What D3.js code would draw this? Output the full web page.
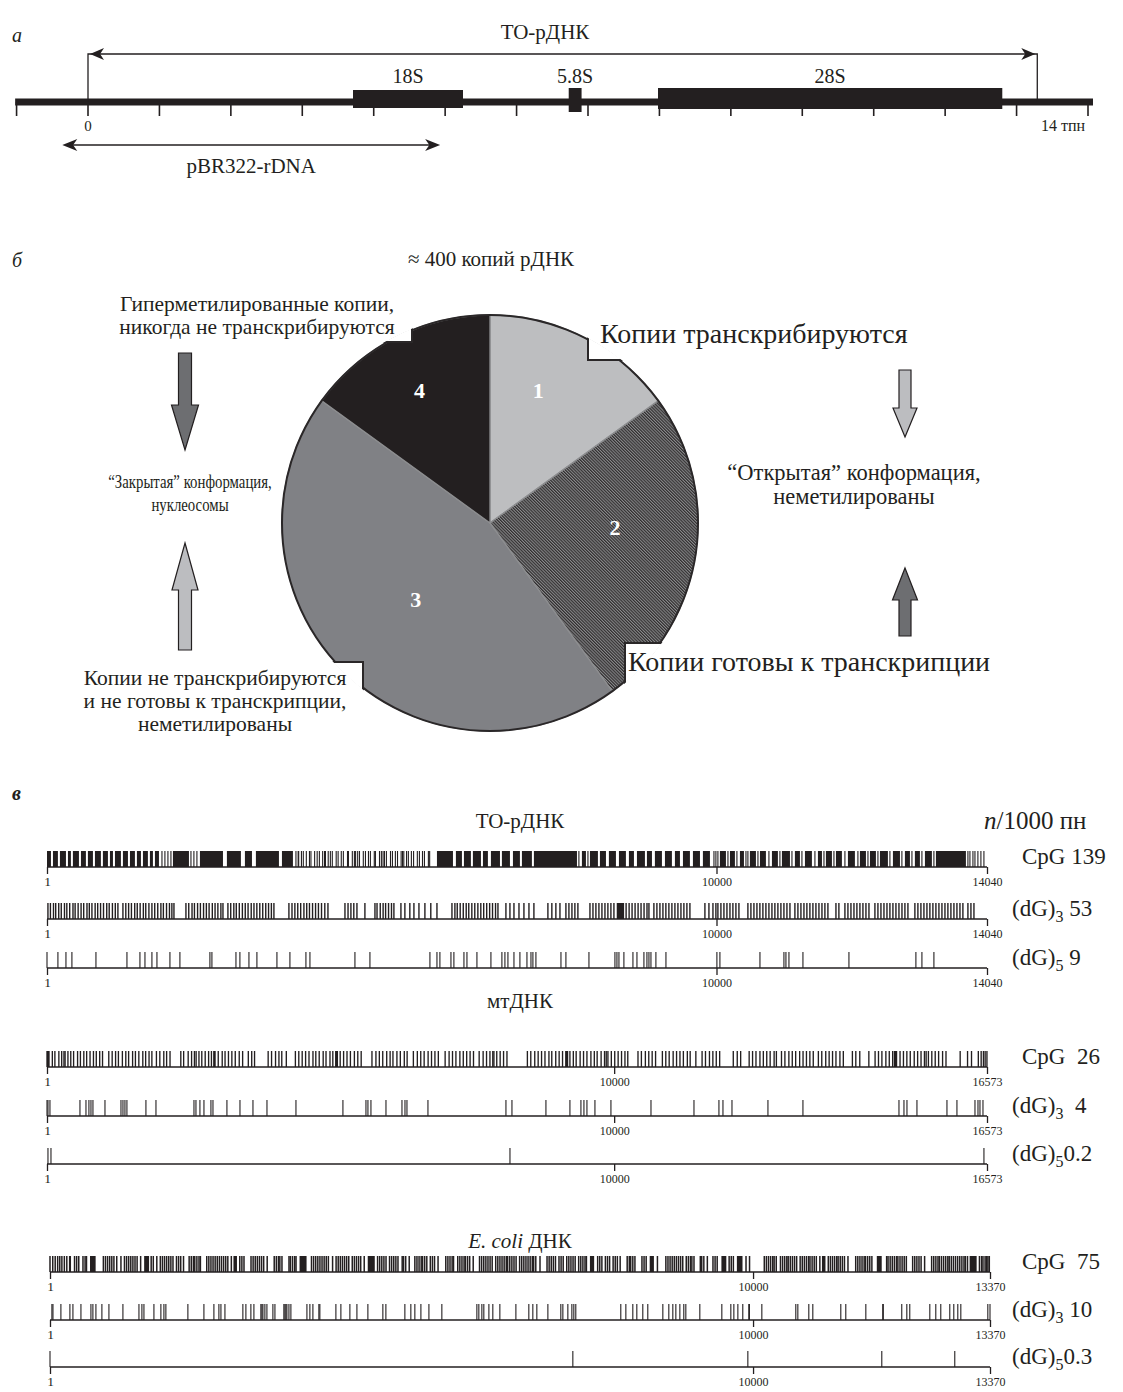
<!DOCTYPE html>
<html><head><meta charset="utf-8">
<script src="https://cdn.jsdelivr.net/npm/d3@7"></script>
<style>
body{margin:0;background:#fff;}
svg{display:block;}
text{font-family:"Liberation Serif","Times New Roman",serif;fill:#231f20;}
</style></head><body>
<svg id="fig" width="1123" height="1392"></svg>
<script>
// ---------- panel а: map of one rDNA repeat, positions in kb ----------
const repeatExtentKb = [-1.02, 14.07];
const kbTickValues = [-1, 0, 1, 2, 3, 4, 5, 6, 7, 8, 9, 10, 11, 12, 13, 14];
const geneNames = ["18S", "5.8S", "28S"];
const geneStartKb = [3.71, 6.73, 7.98];
const geneEndKb = [5.25, 6.91, 12.8];
const transcribedSpanKb = [0, 13.29];
const cloneSpanKb = [-0.36, 4.93];

// ---------- panel б: fractions of the ~400 rDNA copies ----------
const fractionIds = ["1", "2", "3", "4"];
const fractionShares = [15, 25, 45, 15];

// ---------- panel в: motif positions along three sequences (bp) ----------
const sequenceTitles = ["ТО-рДНК", "мтДНК", "E. coli ДНК"];
const sequenceLengths = [14040, 16573, 13370];
const motifBase = ["CpG", "(dG)", "(dG)"];
const motifSub = ["", "3", "5"];
const motifDensities = [
  ["\u00a0139", "\u00a053", "\u00a09"],
  ["\u00a0\u00a026", "\u00a0\u00a04", "0.2"],
  ["\u00a0\u00a075", "\u00a010", "0.3"]
];

// ТО-рДНК, CpG: dense blocks plus isolated sites
const rdnaCpGRuns = [[1,60],[90,164],[194,284],[314,358],[388,478],[508,582],[612,687],[717,806],[836,911],[941,986],[1016,1105],[1135,1210],[1240,1314],[1344,1404],[1434,1508],[1538,1583],[1613,1673],[1882,2121],[2285,2629],[2688,2897],[2957,3062],[3121,3465],[3510,3674],[5825,6064],[6108,6198],[6228,6332],[6362,6482],[6512,6586],[6631,6766],[6795,6915],[6960,7064],[7094,7243],[7273,7916],[7990,8050],[8110,8229],[8259,8349],[8393,8498],[8543,8647],[8692,8767],[8812,8931],[8961,9036],[9080,9185],[9230,9334],[9379,9454],[9499,9603],[9648,9753],[9797,9902],[10051,10141],[10201,10275],[10350,10410],[10499,10589],[10649,10738],[10828,10917],[10977,11097],[11171,11246],[11321,11425],[11515,11575],[11634,11724],[11784,11873],[11963,12067],[12142,12232],[12292,12381],[12441,12560],[12635,12740],[12814,12889],[12963,13038],[13113,13217],[13277,13725]];
const rdnaCpGSites = [1718,1762,1807,1852,2151,2195,2240,3719,3752,3760,3801,3829,3874,3921,3943,3998,4036,4069,4118,4146,4160,4201,4233,4262,4320,4349,4396,4427,4489,4503,4561,4592,4610,4641,4668,4725,4757,4802,4831,4889,4906,4967,4995,5020,5041,5070,5131,5160,5204,5236,5290,5311,5330,5371,5398,5443,5476,5532,5563,5609,5638,5697,5716,7945,8080,9962,9991,10021,10171,10305,10440,10469,10619,10783,10947,11127,11276,11470,11605,11754,11918,12112,12262,12411,12590,12769,12919,13068,13247,13755,13785,13830,13860,13904,13949,13994];

// ТО-рДНК, (dG)3
const rdnaG3Runs = [[8510,8620]];
const rdnaG3Sites = [15,52,98,131,176,214,262,297,340,389,421,466,510,549,598,633,672,720,758,801,845,893,930,978,1021,1060,
  1135,1178,1220,1262,1311,1349,1392,1440,1476,1523,1568,1610,1655,1702,1739,1786,1830,1866,1897,
  2076,2118,2167,2203,2250,2292,2339,2381,2422,2470,2511,2553,2598,2629,
  2703,2745,2791,2828,2873,2919,2962,3004,3051,3092,3135,3179,3223,3268,3310,3352,3390,
  3614,3660,3703,3746,3790,3838,3880,3921,3967,4012,4055,4101,4150,4197,
  4451,4497,4540,4583,4630,4749,4899,4930,4978,5021,5058,5102,5146,5182,
  5287,5346,5420,5481,5556,5645,5733,5825,
  6049,6093,6128,6172,6218,6262,6300,6346,6390,6436,6480,6523,6568,6612,6655,6700,6736,
  6855,6915,6975,7050,7124,7199,7273,7482,7541,7601,7662,7751,7796,7841,7885,7930,
  8110,8155,8199,8244,8289,8334,8378,8423,8468,8650,8695,8739,8784,8829,8873,8918,8962,8991,
  9065,9110,9155,9200,9244,9289,9334,9379,9424,9469,9513,9558,9603,9827,9887,9947,
  9991,10021,10066,10111,10156,10201,10245,10290,10335,
  10469,10514,10559,10604,10648,10693,10738,10783,10828,10872,10917,10962,11007,11052,11097,
  11171,11216,11261,11306,11350,11395,11440,11485,11530,11575,11619,11664,11784,11828,
  11918,11963,12008,12053,12097,12142,12187,12232,12277,
  12366,12411,12456,12501,12546,12590,12635,12680,12725,12770,12814,12859,
  12963,13008,13053,13098,13143,13187,13232,13277,13322,13367,13412,13456,13501,13546,13591,13636,13680,
  13755,13800,13845];

// ТО-рДНК, (dG)5
const rdnaG5Sites = [1,164,284,373,732,1195,1389,1464,1568,1643,1837,1986,2434,2464,2823,2882,3017,3136,3435,3629,3868,3928,4600,4824,5720,5825,5869,6034,6078,6228,6273,6422,6631,6795,6840,6885,6975,7064,7169,7229,7258,7303,7677,7751,8095,8483,8513,8543,8617,8752,8812,8916,8961,8991,9021,9095,9245,10006,10051,10649,11007,11037,11082,11291,11978,12978,13068,13247];

// мтДНК, CpG
const mtCpGRuns = [[1,45],[2930,2970],[5080,5130],[9140,9190],[14930,14990]];
const mtCpGSites = [1,30,95,140,210,260,300,320,370,420,470,540,590,650,700,760,820,870,930,980,1090,1150,1210,1260,1330,1390,1440,1510,1560,1620,1690,1740,1800,1850,1930,1990,2060,2110,2170,2360,2410,2490,2550,2600,2630,2680,2730,2790,2850,2900,2960,3020,3090,3140,3200,3260,3320,3390,3450,3550,3610,3660,3900,3960,4030,4090,4140,4220,4380,4440,4500,4560,4620,4690,4740,4800,4870,4920,4990,5040,5100,5120,5170,5230,5290,5350,5420,5480,5540,5730,5800,5860,5920,5990,6050,6100,6170,6230,6300,6350,6460,6530,6590,6650,6720,6780,6840,6900,7020,7090,7150,7210,7280,7340,7400,7460,7520,7620,7690,7750,7810,7860,7880,7930,7990,8050,8110,8470,8530,8600,8660,8720,8780,8850,8900,8970,9030,9090,9150,9170,9220,9280,9330,9400,9460,9520,9590,9650,9700,9770,9830,9860,9890,9950,10010,10070,10130,10190,10240,10420,10480,10550,10610,10670,10730,10850,10910,10970,11040,11100,11160,11220,11290,11340,11440,11550,11610,11680,11740,11800,11860,12100,12170,12230,12380,12440,12500,12570,12630,12690,12750,12820,12860,12950,13010,13080,13140,13200,13270,13330,13390,13450,13510,13600,13660,13730,13790,13850,13910,13980,14040,14200,14260,14330,14490,14600,14660,14720,14790,14850,14910,14950,14970,15040,15100,15160,15220,15290,15350,15410,15470,15500,15540,15600,15660,15720,15790,15850,16100,16230,16300,16420,16470,16510,16540,16572];

// мтДНК, (dG)3 and (dG)5
const mtG3Sites = [1,18,53,582,688,740,776,811,1023,1305,1340,1375,1410,1745,1922,2592,2627,2697,2768,2891,2927,3173,3403,3632,3879,4390,5218,5624,5659,5712,5977,6259,6312,6347,6717,8092,8198,8797,9220,9414,9467,9520,9661,9943,10649,11407,11847,11918,12077,12711,13328,15021,15109,15162,15338,15867,16043,16361,16414,16449,16502];
const mtG5Sites = [18,71,8163,16519];

// E. coli ДНК, CpG
const ecoliCpGRuns = [[270,300],[570,650],[1340,1410],[2610,2660],[3550,3650],[4520,4620],[7680,7740],[8530,8590],[9550,9620],[9770,9850],[10980,11030],[11760,11830],[13080,13180]];
const ecoliCpGSites = [1,40,75,110,140,170,205,240,350,380,410,470,500,520,760,790,820,850,880,910,950,1010,1060,1090,1120,1150,1180,1210,1240,1290,1440,1470,1520,1570,1600,1630,1660,1690,1720,1750,1800,1830,1860,1900,1980,2010,2040,2060,2090,2120,2140,2230,2260,2290,2320,2350,2380,2410,2440,2470,2500,2530,2580,2700,2730,2760,2860,2890,2920,2950,2980,3010,3040,3090,3190,3220,3250,3270,3300,3400,3420,3450,3480,3500,3720,3750,3780,3810,3840,3870,3900,3930,3960,4020,4070,4100,4130,4160,4190,4220,4250,4300,4330,4360,4390,4420,4470,4660,4690,4720,4750,4780,4830,4860,4890,4920,4950,5010,5030,5060,5110,5190,5220,5250,5280,5300,5330,5360,5410,5440,5470,5520,5630,5660,5690,5720,5740,5800,5830,5860,5890,5910,5940,5970,6020,6110,6140,6170,6200,6230,6260,6290,6340,6370,6400,6430,6460,6490,6510,6540,6570,6600,6630,6680,6710,6740,6770,6800,6830,6860,6880,6910,6970,7070,7100,7130,7160,7190,7240,7270,7300,7350,7380,7410,7440,7470,7520,7550,7580,7610,7630,7790,7820,7850,7900,7930,7960,8010,8040,8070,8110,8210,8240,8260,8290,8320,8420,8450,8480,8640,8760,8790,8820,8850,8880,8910,8940,8970,9000,9050,9080,9110,9130,9160,9250,9270,9300,9350,9430,9460,9490,9660,9690,9720,9900,9950,10160,10190,10220,10250,10280,10300,10330,10390,10420,10450,10480,10500,10530,10560,10590,10620,10670,10700,10730,10760,10790,10810,10840,10870,10900,10950,11070,11100,11130,11160,11190,11210,11240,11270,11300,11350,11460,11490,11520,11550,11580,11600,11630,11660,11690,11900,11920,11950,11980,12010,12040,12060,12090,12120,12150,12180,12270,12300,12330,12360,12390,12440,12540,12570,12600,12630,12650,12680,12710,12740,12770,12790,12820,12850,12880,12910,12940,12970,13000,13020,13050,13220,13250,13270,13300,13320,13340,13360];

// E. coli ДНК, (dG)3 and (dG)5
const ecoliG3Sites = [28,43,156,284,327,441,583,611,654,739,839,1038,1266,1308,1337,1479,1578,1621,1649,1962,2190,2332,2403,2432,2489,2744,2787,2858,2901,3000,3015,3029,3057,3086,3171,3200,3327,3342,3356,3370,3399,3427,3655,3697,3740,3825,3839,4067,4138,4266,4366,4522,4735,4778,5048,5133,5190,5276,5390,5574,6072,6100,6143,6171,6243,6299,6399,6627,6811,6868,6925,7082,7266,7295,7366,7423,7451,7479,8119,8191,8290,8347,8432,8503,8717,8802,8859,8902,8959,9015,9044,9243,9556,9684,9727,9784,9854,9940,9948,10125,10608,10637,10793,10850,11248,11319,11604,11845,11852,12115,12187,12229,12514,12599,12670,12798,12855,12912,12955,13339,13370];
const ecoliG5Sites = [1,7437,9926,11831,12869];

const motifSites = [
  [rdnaCpGSites, rdnaG3Sites, rdnaG5Sites],
  [mtCpGSites, mtG3Sites, mtG5Sites],
  [ecoliCpGSites, ecoliG3Sites, ecoliG5Sites]
];
const motifRuns = [
  [rdnaCpGRuns, rdnaG3Runs, []],
  [mtCpGRuns, [], []],
  [ecoliCpGRuns, [], []]
];

// ---------- drawing ----------
const ink = "#231f20";
const svg = d3.select("#fig");
const defs = svg.append("defs");

function label(x, y, txt, size, opts = {}) {
  const t = svg.append("text").attr("x", x).attr("y", y)
    .attr("font-size", size).attr("text-anchor", opts.anchor || "start")
    .text(txt);
  if (opts.italic) t.attr("font-style", "italic");
  if (opts.bold) t.attr("font-weight", "bold");
  if (opts.fill) t.style("fill", opts.fill);
  return t;
}

// panel letters
label(12, 42, "а", 20, {italic: true});
label(12, 267, "б", 20, {italic: true});
label(12, 800, "в", 20, {italic: true, bold: true});

// ===== panel а =====
const xKb = d3.scaleLinear().domain([0, 14]).range([88, 1088]);
const axisY = 102;
const gA = svg.append("g");

gA.selectAll("line.kbtick").data(kbTickValues).join("line")
  .attr("x1", d => xKb(d)).attr("x2", d => xKb(d))
  .attr("y1", axisY).attr("y2", axisY + 14)
  .attr("stroke", ink).attr("stroke-width", 1.6);

gA.append("line")
  .attr("x1", xKb(repeatExtentKb[0])).attr("x2", xKb(repeatExtentKb[1]))
  .attr("y1", axisY).attr("y2", axisY)
  .attr("stroke", ink).attr("stroke-width", 7);

const geneHalf = {"18S": [12, 6], "5.8S": [14, 10], "28S": [14, 7]};
geneNames.forEach((g, i) => {
  const [up, down] = geneHalf[g];
  gA.append("rect")
    .attr("x", xKb(geneStartKb[i])).attr("width", xKb(geneEndKb[i]) - xKb(geneStartKb[i]))
    .attr("y", axisY - up).attr("height", up + down).attr("fill", ink);
  label((xKb(geneStartKb[i]) + xKb(geneEndKb[i])) / 2, 83, g, 20, {anchor: "middle"});
});

function headPath(xTip, y, dir, len, half) {
  const p = d3.path();
  p.moveTo(xTip, y);
  p.lineTo(xTip - dir * len, y - half);
  p.lineTo(xTip - dir * len * 0.72, y);
  p.lineTo(xTip - dir * len, y + half);
  p.closePath();
  return p.toString();
}

// transcribed unit bracket
const brY = 54;
gA.append("path")
  .attr("d", `M${xKb(transcribedSpanKb[0])},${axisY}V${brY}H${xKb(transcribedSpanKb[1])}V${axisY}`)
  .attr("fill", "none").attr("stroke", ink).attr("stroke-width", 1.3);
gA.append("path").attr("d", headPath(xKb(transcribedSpanKb[0]) + 2, brY, -1, 14, 6)).attr("fill", ink);
gA.append("path").attr("d", headPath(xKb(transcribedSpanKb[1]) - 2, brY, 1, 14, 6)).attr("fill", ink);
label(545, 39, "ТО-рДНК", 21, {anchor: "middle"});

// cloned fragment
const clY = 145;
gA.append("line")
  .attr("x1", xKb(cloneSpanKb[0]) + 4).attr("x2", xKb(cloneSpanKb[1]) - 4)
  .attr("y1", clY).attr("y2", clY).attr("stroke", ink).attr("stroke-width", 1.4);
gA.append("path").attr("d", headPath(xKb(cloneSpanKb[0]), clY, -1, 15, 6)).attr("fill", ink);
gA.append("path").attr("d", headPath(xKb(cloneSpanKb[1]), clY, 1, 15, 6)).attr("fill", ink);
label((xKb(cloneSpanKb[0]) + xKb(cloneSpanKb[1])) / 2, 173, "pBR322-rDNA", 21, {anchor: "middle"});

label(xKb(0), 131, "0", 15, {anchor: "middle"});
label(xKb(14) - 47, 131, "14 тпн", 16);

// ===== panel б =====
label(491, 266, "≈ 400 копий рДНК", 21, {anchor: "middle"});

const cx = 490, cy = 523, R = 208;
const hatch = defs.append("pattern").attr("id", "hatch")
  .attr("patternUnits", "userSpaceOnUse").attr("width", 2.2).attr("height", 2.2)
  .attr("patternTransform", "rotate(-45)");
hatch.append("rect").attr("width", 2.2).attr("height", 2.2).attr("fill", "#8a8b8d");
hatch.append("line").attr("x1", 0.6).attr("y1", 0).attr("x2", 0.6).attr("y2", 2.2)
  .attr("stroke", "#2a2728").attr("stroke-width", 1.1);

const sliceFill = ["#bdbec0", "url(#hatch)", "#808185", "#231f20"];
const arcs = d3.pie().sort(null).value(d => d)(fractionShares);
const arcGen = d3.arc().innerRadius(0).outerRadius(R);
const gPie = svg.append("g").attr("transform", `translate(${cx},${cy})`);
gPie.selectAll("path.slice").data(arcs).join("path")
  .attr("d", arcGen)
  .attr("fill", (d, i) => sliceFill[i])
  .attr("stroke", "#8d8e90").attr("stroke-width", 1.3);
gPie.append("circle").attr("r", R).attr("fill", "none")
  .attr("stroke", "#2a2728").attr("stroke-width", 2);

// label boxes that bite into the pie
defs.append("clipPath").attr("id", "pieClip")
  .append("circle").attr("cx", cx).attr("cy", cy).attr("r", R + 1.5);
const cutouts = [
  {x0: 0, x1: 412, y0: 0, y1: 342},
  {x0: 588, x1: 1120, y0: 0, y1: 360},
  {x0: 0, x1: 363, y0: 662, y1: 900},
  {x0: 625, x1: 1120, y0: 643, y1: 900}
];
svg.append("g").attr("clip-path", "url(#pieClip)")
  .selectAll("rect").data(cutouts).join("rect")
  .attr("x", d => d.x0).attr("y", d => d.y0)
  .attr("width", d => d.x1 - d.x0).attr("height", d => d.y1 - d.y0)
  .attr("fill", "#fff").attr("stroke", "#2a2728").attr("stroke-width", 2);

// slice numbers: [radius, angle in degrees clockwise from 12 o'clock]
const labelPolar = [[141, 20], [125, 92], [107, 224], [150, 332]];
fractionIds.forEach((id, i) => {
  const [r, deg] = labelPolar[i];
  const a = deg * Math.PI / 180;
  svg.append("text")
    .attr("x", cx + r * Math.sin(a)).attr("y", cy - r * Math.cos(a))
    .attr("text-anchor", "middle").attr("dominant-baseline", "central")
    .attr("font-size", 22).attr("font-weight", "bold")
    .style("fill", "#fff").text(id);
});

function block(lines, x, y0, step, size, anchor, squeeze = 1) {
  lines.forEach((s, i) => {
    const t = label(0, 0, s, size, {anchor});
    t.attr("transform", `translate(${x},${y0 + i * step}) scale(${squeeze},1)`);
  });
}
block(["Гиперметилированные копии,", "никогда не транскрибируются"], 257, 311, 23, 21.5, "middle");
block(["“Закрытая” конформация,", "нуклеосомы"], 190, 488, 23, 19.5, "middle", 0.76);
block(["Копии не транскрибируются", "и не готовы к транскрипции,", "неметилированы"], 215, 685, 23, 21.5, "middle");
block(["“Открытая” конформация,", "неметилированы"], 854, 480, 24, 22.5, "middle");
label(600, 343, "Копии транскрибируются", 28);
label(628, 671, "Копии готовы к транскрипции", 28);

function blockArrow(x, yTip, yTail, headLen, shaftW, headW) {
  const s = Math.sign(yTail - yTip);
  const yHead = yTip + s * headLen;
  const p = d3.path();
  p.moveTo(x, yTip);
  p.lineTo(x + headW / 2, yHead);
  p.lineTo(x + shaftW / 2, yHead);
  p.lineTo(x + shaftW / 2, yTail);
  p.lineTo(x - shaftW / 2, yTail);
  p.lineTo(x - shaftW / 2, yHead);
  p.lineTo(x - headW / 2, yHead);
  p.closePath();
  return p.toString();
}
const arrows = [
  {x: 185, tip: 450, tail: 353, head: 45, sw: 13, hw: 27, fill: "#6d6e71"},
  {x: 185, tip: 543, tail: 650, head: 47, sw: 13, hw: 26, fill: "#bcbdc0"},
  {x: 905, tip: 437, tail: 370, head: 29, sw: 12, hw: 24, fill: "#bcbdc0"},
  {x: 905, tip: 568, tail: 636, head: 32, sw: 12, hw: 25, fill: "#6d6e71"}
];
svg.selectAll("path.blockArrow").data(arrows).join("path")
  .attr("d", d => blockArrow(d.x, d.tip, d.tail, d.head, d.sw, d.hw))
  .attr("fill", d => d.fill).attr("stroke", ink).attr("stroke-width", 1.2);

// ===== panel в =====
const groupX0 = [47, 47, 50];
const trackWidth = 940;
const titleY = [828, 1008, 1248];
const rowBase = [[867, 919, 968], [1067, 1116, 1164], [1272, 1320, 1367]];
const barH = 16;
const siteWidth = [[1.1, 1.4, 1.1], [1.35, 1.1, 1.1], [1.5, 1.1, 1.1]];

const nl = svg.append("text").attr("x", 984).attr("y", 829).attr("font-size", 25);
nl.append("tspan").attr("font-style", "italic").text("n");
nl.append("tspan").text("/1000 пн");

sequenceTitles.forEach((title, gi) => {
  const t = svg.append("text").attr("x", 520).attr("y", titleY[gi])
    .attr("font-size", 21).attr("text-anchor", "middle");
  if (title.startsWith("E. coli")) {
    t.append("tspan").attr("font-style", "italic").text("E. coli");
    t.append("tspan").text(title.slice(7));
  } else {
    t.text(title);
  }

  const x = d3.scaleLinear().domain([1, sequenceLengths[gi]])
    .range([groupX0[gi], groupX0[gi] + trackWidth]);

  motifBase.forEach((m, ri) => {
    const y0 = rowBase[gi][ri];
    const g = svg.append("g");
    g.selectAll("rect").data(motifRuns[gi][ri]).join("rect")
      .attr("x", d => x(d[0])).attr("width", d => Math.max(1, x(d[1]) - x(d[0])))
      .attr("y", y0 - barH).attr("height", barH).attr("fill", ink);
    g.selectAll("line.site").data(motifSites[gi][ri]).join("line")
      .attr("class", "site")
      .attr("x1", d => x(d)).attr("x2", d => x(d))
      .attr("y1", y0 - barH).attr("y2", y0)
      .attr("stroke", ink).attr("stroke-width", siteWidth[gi][ri]);

    const ax = g.append("g").attr("transform", `translate(0,${y0})`)
      .call(d3.axisBottom(x).tickValues([1, 10000, sequenceLengths[gi]])
        .tickSize(7).tickFormat(d3.format("d")));
    ax.select(".domain").remove();
    ax.selectAll(".tick line").attr("stroke", ink).attr("stroke-width", 1.3);
    ax.selectAll(".tick text")
      .attr("font-family", "Liberation Serif, serif")
      .attr("font-size", 12).style("fill", ink);
    ax.selectAll(".tick text").filter(d => d === 1).attr("font-size", 13.5).attr("y", 9);
    g.append("line").attr("x1", x(1)).attr("x2", x(sequenceLengths[gi]))
      .attr("y1", y0).attr("y2", y0).attr("stroke", ink).attr("stroke-width", 1.5);

    const lt = g.append("text").attr("x", ri === 0 ? 1022 : 1012).attr("y", y0 - 3)
      .attr("font-size", 23);
    lt.append("tspan").text(m);
    if (motifSub[ri]) {
      lt.append("tspan").attr("font-size", 16).attr("dy", 6).text(motifSub[ri]);
      lt.append("tspan").attr("dy", -6).text(motifDensities[gi][ri]);
    } else {
      lt.append("tspan").text(motifDensities[gi][ri]);
    }
  });
});
</script>
</body></html>
